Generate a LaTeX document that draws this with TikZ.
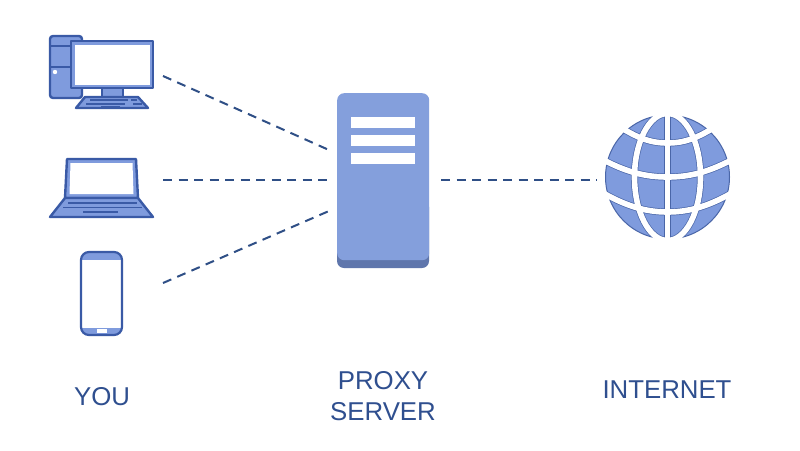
\documentclass[tikz,border=0pt]{standalone}
\usepackage{fontspec}
\setmainfont{Liberation Sans}
\definecolor{iconline}{HTML}{3A5AA6}
\definecolor{iconfill}{HTML}{7F9BDD}
\definecolor{srvfill}{HTML}{849FDC}
\definecolor{srvdark}{HTML}{5F76AC}
\definecolor{dashcol}{HTML}{2F4F86}
\definecolor{txtcol}{HTML}{2F4F8F}
\definecolor{globeedge}{HTML}{4A66A8}
\tikzset{
  icon/.style={draw=iconline,line width=2.4pt,fill=iconfill,line join=round},
  iconl/.style={draw=iconline,line width=1.8pt},
  link/.style={draw=dashcol,line width=2pt,dash pattern=on 9pt off 6.5pt},
  lbl/.style={text=txtcol,font=\fontsize{25.8}{31}\selectfont,align=center,inner sep=0pt},
  bar/.style={fill=white,draw=none},
  gridd/.style={draw=globeedge,line width=7pt},
  gridw/.style={draw=white,line width=5.6pt},
  globegrid/.pic={
  \draw[#1] (667.5,105) -- (667.5,249);
  \draw[#1] (667.5,177) ellipse [x radius=33,y radius=63.5];
  \draw[#1] (610,120) .. controls (635,138) and (650,143) .. (667.5,143) .. controls (685,143) and (700,138) .. (725,120);
  \draw[#1] (598,157) .. controls (625,172) and (645,177) .. (667.5,177) .. controls (690,177) and (710,172) .. (737,157);
  \draw[#1] (598,190) .. controls (625,206) and (645,212) .. (667.5,212) .. controls (690,212) and (710,206) .. (737,190);
  },
}
\begin{document}
\begin{tikzpicture}[x=1pt,y=-1pt]
\useasboundingbox (0,0) rectangle (800,450);
\fill[white] (0,0) rectangle (800,450);
% desktop
\draw[icon,rounded corners=3pt] (50,36) rectangle (82,98);
\draw[iconl] (50,46) -- (82,46) (50,67) -- (82,67);
\fill[white] (55,72) circle (2.2);
\draw[icon] (102,88) rectangle (123,97);
\draw[icon] (71,41) rectangle (153,88);
\fill[white] (75,45) rectangle (149.5,84.5);
\draw[icon] (85,97) -- (138,97) -- (148,108) -- (76,108) -- cycle;
\draw[draw=iconline,line width=1.2pt] (90,100) -- (128,100) (131,100) -- (137,100) (86,104) -- (125,104) (133,104) -- (142,104) (101,106.5) -- (120,106.5);
% laptop
\draw[icon] (67,159) -- (136,159) -- (138,198) -- (65,198) -- cycle;
\fill[white] (70.5,163) -- (132.5,163) -- (133.5,194) -- (69.5,194) -- cycle;
\draw[icon] (65,198) -- (138,198) -- (153,217) -- (50,217) -- cycle;
\draw[iconl] (68,203) -- (137,203) (63,207.5) -- (142,207.5) (83,212) -- (118,212);
% phone
\begin{scope}
\clip[rounded corners=8pt] (81,252) rectangle (122,335);
\fill[white] (81,252) rectangle (122,335);
\fill[iconfill] (81,252) rectangle (122,260);
\fill[iconfill] (81,328) rectangle (122,335);
\end{scope}
\draw[draw=iconline,line width=2.2pt,rounded corners=8pt] (81,252) rectangle (122,335);
\fill[white] (97,329) rectangle (107,333);
% server
\fill[srvdark,rounded corners=7pt] (337,200) rectangle (429,268);
\node[fill=srvfill,rounded corners=7pt,minimum width=92pt,minimum height=167pt,inner sep=0pt,anchor=north west] (server) at (337,93) {};
\fill[bar] (351,117) rectangle (415,128);
\fill[bar] (351,135) rectangle (415,145.5);
\fill[bar] (351,153) rectangle (415,163.5);
% globe
\fill[iconfill] (667.5,177) circle (62);
\draw[globeedge,line width=1pt] (667.5,177) circle (62);
\begin{scope}
\clip (667.5,177) circle (62);
\pic {globegrid=gridd};
\end{scope}
\begin{scope}
\clip (667.5,177) circle (64);
\pic {globegrid=gridw};
\end{scope}
% connectors
\coordinate (pcEnd) at (163,76);
\coordinate (lapEnd) at (163,180);
\coordinate (phoneEnd) at (163,283);
\coordinate (srvA) at (329,150);
\coordinate (srvB) at (329,180);
\coordinate (srvC) at (329,211);
\coordinate (srvD) at (441,180);
\coordinate (netEnd) at (597,180);
\draw[link] (pcEnd) -- (srvA);
\draw[link] (lapEnd) -- (srvB);
\draw[link] (phoneEnd) -- (srvC);
\draw[link] (srvD) -- (netEnd);
% labels
\node[lbl] (you) at (102,397) {YOU};
\node[lbl] (proxy) at (383,396.5) {PROXY\\SERVER};
\node[lbl] (internet) at (667,390) {INTERNET};
\end{tikzpicture}
\end{document}
